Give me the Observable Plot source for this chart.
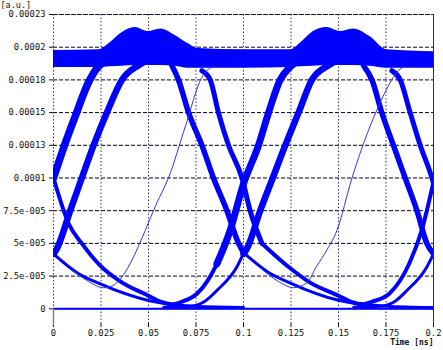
<!DOCTYPE html>
<html><head><meta charset="utf-8">
<script src="https://cdn.jsdelivr.net/npm/d3@7"></script>
<script src="https://cdn.jsdelivr.net/npm/@observablehq/plot@0.6"></script>
<style>body{margin:0;background:#fff}</style>
</head><body><div id="chart"></div>
<script>
// Axis ticks and labels
const tTicks = [0, 0.025, 0.05, 0.075, 0.1, 0.125, 0.15, 0.175, 0.2];
const tLabels = ["0", "0.025", "0.05", "0.075", "0.1", "0.125", "0.15", "0.175", "0.2"];
const vTicks = [0, 2.5e-5, 5e-5, 7.5e-5, 1e-4, 1.25e-4, 1.5e-4, 1.75e-4, 2e-4, 2.25e-4];
const vLabels = ["0", "2.5e-005", "5e-005", "7.5e-005", "0.0001", "0.00013", "0.00015", "0.00018", "0.0002", "0.00023"];

// Traces: [time ns, value in 1e-5 a.u.]
const riseA1 = [[0,10],[0.0053,12.3],[0.0114,14.7],[0.0184,17.3],[0.0235,18.5],[0.0267,18.9]];
const dipA1 = [[0,10],[0.0009,9.56],[0.008,6.5],[0.0149,5.0],[0.0246,3.3],[0.0351,2.1],[0.05,1.0],[0.0572,0.5],[0.0625,0.35],[0.0677,0.55],[0.0755,1.15],[0.086,3.44],[0.093,6.0]];
const riseA2 = [[0.086,3.44],[0.093,6.0],[0.1,9.56],[0.1079,12.5],[0.1132,15.0],[0.1193,17.5],[0.1246,18.5],[0.128,18.9]];
const fallB1 = [[0.0781,18.2],[0.0825,17.5],[0.0868,15.0],[0.0921,12.5],[0.0992,10.0],[0.1035,7.5],[0.1097,5.0]];
const dipA2 = [[0.1097,5.0],[0.1246,3.1],[0.1351,2.0],[0.15,1.0],[0.1572,0.5],[0.1625,0.35],[0.1678,0.55],[0.1767,1.15],[0.1872,3.44],[0.1938,6.0],[0.2,9.7]];
const fallB2 = [[0.1781,18.2],[0.1825,17.5],[0.1877,15.0],[0.193,12.5],[0.1992,10.0],[0.2,9.6]];
const fallC1 = [[0.0623,18.6],[0.0658,17.5],[0.0711,15.0],[0.0781,12.5],[0.0842,10.0],[0.0913,7.5],[0.0974,5.0],[0.1,4.3]];
const fallC2 = [[0.1632,18.6],[0.1676,17.5],[0.1728,15.0],[0.1789,12.5],[0.1851,10.0],[0.1913,7.5],[0.1965,5.0],[0.2,4.2]];
const tailC0 = [[0,4.2],[0.013,2.7],[0.0246,1.9],[0.05,0.63],[0.0755,0.18],[0.1,0.1]];
const tailC1 = [[0.1,4.3],[0.113,2.8],[0.125,1.95],[0.15,0.65],[0.175,0.2],[0.2,0.1]];
const riseD0 = [[0,4.2],[0.0018,4.6],[0.0088,7.5],[0.0149,10.0],[0.0211,12.5],[0.0281,15.0],[0.036,17.5],[0.0446,18.6],[0.048,18.9]];
const lowD1 = [[0.058,0.12],[0.072,0.2],[0.0799,0.6],[0.086,1.4],[0.0965,3.2],[0.1,4.2],[0.1018,4.6]];
const riseD1 = [[0.1,4.2],[0.1018,4.6],[0.1088,7.5],[0.1154,10.0],[0.122,12.5],[0.129,15.0],[0.136,17.5],[0.1446,18.6],[0.148,18.9]];
const lowD2 = [[0.158,0.12],[0.172,0.2],[0.18,0.6],[0.186,1.4],[0.1965,3.2],[0.2,4.2]];
const thin1 = [[0.0098,3.0],[0.0183,2.1],[0.0263,1.61],[0.0309,1.75],[0.036,2.42],[0.0419,3.9],[0.0483,6.0],[0.0541,8.0],[0.0605,10.0],[0.0693,13.9],[0.0781,17.7],[0.0814,18.3],[0.0846,18.5]];
const thin2 = [[0.1098,3.0],[0.1183,2.1],[0.1263,1.61],[0.1334,2.0],[0.1383,3.2],[0.1439,4.5],[0.1492,6.0],[0.1571,10.0],[0.1702,15.2],[0.1789,17.7],[0.1814,18.2],[0.1846,18.5]];
const baseLine = [[0,0],[0.2,0]];

// Upper "1" band (dense traces): time, lower edge, upper edge
const bandT  = [0, 0.024, 0.0295, 0.036, 0.043, 0.0497, 0.0565, 0.064, 0.0705, 0.076, 0.1, 0.125, 0.1299, 0.1368, 0.1439, 0.1509, 0.1578, 0.1667, 0.1755, 0.2];
const bandLo = [18.45, 18.45, 18.5, 18.55, 18.6, 18.6, 18.6, 18.55, 18.4, 18.4, 18.4, 18.45, 18.5, 18.55, 18.6, 18.6, 18.6, 18.55, 18.4, 18.4];
const bandHi = [19.75, 19.8, 20.3, 21.1, 21.5, 21.2, 21.4, 20.9, 20.3, 19.9, 19.8, 19.8, 20.3, 21.2, 21.5, 21.2, 21.4, 20.8, 19.8, 19.65];

const band = bandT.map((t, i) => ({t, lo: bandLo[i] * 1e-5, hi: bandHi[i] * 1e-5}));

const BLUE = "#0000ff";
const traces = [
  [tailC0, 3, BLUE], [tailC1, 3, BLUE], [lowD1, 3, BLUE], [lowD2, 3, BLUE],
  [dipA1, 4, BLUE], [dipA2, 4, BLUE],
  [riseA1, 7.5, BLUE], [riseA2, 7, BLUE],
  [riseD0, 6.5, BLUE], [riseD1, 6.5, BLUE],
  [fallC1, 5.5, BLUE], [fallC2, 5.5, BLUE],
  [fallB1, 5, BLUE], [fallB2, 5, BLUE],
  [baseLine, 2, BLUE],
  [thin1, 1, "#3434e6"], [thin2, 1, "#3434e6"]
];

const FONT = "DejaVu Sans Mono";
const chart = Plot.plot({
  width: 443, height: 350,
  marginLeft: 53, marginRight: 10, marginTop: 14, marginBottom: 27,
  style: {fontFamily: FONT, fontSize: "8.8px", background: "#fff", color: "#111"},
  x: {domain: [0, 0.2], ticks: tTicks, tickFormat: d => tLabels[tTicks.indexOf(d)], tickSize: 4, tickPadding: 2, label: null},
  y: {domain: [-1.125e-5, 2.25e-4], ticks: vTicks, tickFormat: d => vLabels[vTicks.indexOf(d)], tickSize: 4, tickPadding: 4, label: null},
  marks: [
    Plot.ruleY(vTicks, {stroke: "#000020", strokeWidth: 1, strokeDasharray: "4,2"}),
    Plot.ruleX(tTicks, {stroke: "#303070", strokeWidth: 1, strokeDasharray: "1.5,2"}),
    Plot.areaY(band, {x: "t", y1: "lo", y2: "hi", fill: BLUE, curve: "monotone-x", clip: true}),
    ...traces.map(([d, w, c]) => Plot.line(d, {x: p => p[0], y: p => p[1] * 1e-5, stroke: c, strokeWidth: w, curve: "monotone-x", clip: true})),
    Plot.ruleX([0], {stroke: "#808080", strokeWidth: 1.5, y2: -1.3e-5}),
    Plot.ruleX([0.2], {stroke: "#303030", strokeWidth: 1}),
    Plot.ruleY([2.25e-4], {stroke: "#202040", strokeWidth: 1, strokeDasharray: "2,1"}),
    Plot.text(["[a.u.]"], {frameAnchor: "top-left", text: d => d, dx: -53, dy: -13, textAnchor: "start", fontFamily: FONT, fontSize: 8.5, fill: "#111"}),
    Plot.text(["Time [ns]"], {frameAnchor: "bottom-right", text: d => d, dy: 21, textAnchor: "end", fontFamily: FONT, fontSize: 8, fontWeight: "bold", fill: "#111"})
  ]
});
document.getElementById("chart").appendChild(chart);
</script>
</body></html>
